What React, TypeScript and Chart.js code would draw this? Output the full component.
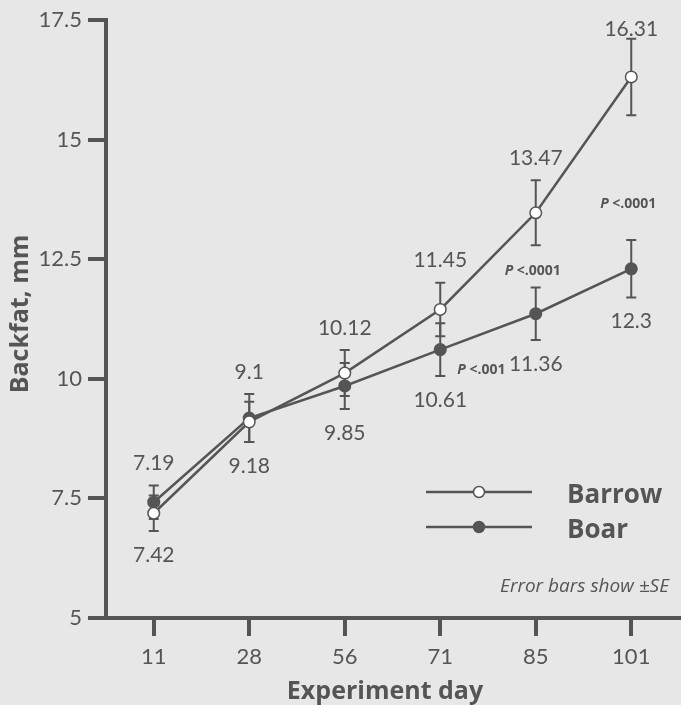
import React, { useEffect, useRef } from "react";
import { Chart, registerables } from "chart.js";

Chart.register(...registerables);

const days = ["11", "28", "56", "71", "85", "101"];
const barrowMeans = [7.19, 9.1, 10.12, 11.45, 13.47, 16.31];
const boarMeans = [7.42, 9.18, 9.85, 10.61, 11.36, 12.3];
const barrowSE = [0.37, 0.42, 0.48, 0.56, 0.68, 0.8];
const boarSE = [0.35, 0.5, 0.48, 0.55, 0.55, 0.6];
const upperLabels = ["7.19", "9.1", "10.12", "11.45", "13.47", "16.31"];
const lowerLabels = ["7.42", "9.18", "9.85", "10.61", "11.36", "12.3"];
const pLabels = ["", "", "", "<.001", "<.0001", "<.0001"];
const yTicks = [5, 7.5, 10, 12.5, 15, 17.5];

const INK = "#555555";
const TEXT = "#555555";
const BG = "#e7e7e7";

const drawPlugin = {
  id: "customDraw",
  beforeDraw(chart: any) {
    const { ctx, width, height } = chart;
    ctx.save();
    ctx.fillStyle = BG;
    ctx.fillRect(0, 0, width, height);
    ctx.restore();
  },
  beforeDatasetsDraw(chart: any) {
    const { ctx } = chart;
    const x = chart.scales.x;
    const y = chart.scales.y;
    ctx.save();
    ctx.strokeStyle = INK;
    ctx.lineWidth = 2;
    const bar = (px: number, m: number, se: number) => {
      const t = y.getPixelForValue(m + se);
      const b = y.getPixelForValue(m - se);
      ctx.beginPath();
      ctx.moveTo(px, t);
      ctx.lineTo(px, b);
      ctx.moveTo(px - 5, t);
      ctx.lineTo(px + 5, t);
      ctx.moveTo(px - 5, b);
      ctx.lineTo(px + 5, b);
      ctx.stroke();
    };
    days.forEach((_, i) => {
      const px = x.getPixelForValue(i);
      bar(px, boarMeans[i], boarSE[i]);
      bar(px, barrowMeans[i], barrowSE[i]);
    });
    ctx.restore();
  },
  afterDraw(chart: any) {
    const { ctx } = chart;
    const x = chart.scales.x;
    const y = chart.scales.y;
    ctx.save();
    ctx.fillStyle = TEXT;
    ctx.textAlign = "center";
    ctx.textBaseline = "middle";
    ctx.font = "21px Lato";
    days.forEach((_, i) => {
      const px = x.getPixelForValue(i);
      const top = Math.min(
        y.getPixelForValue(barrowMeans[i] + barrowSE[i]),
        y.getPixelForValue(boarMeans[i] + boarSE[i])
      );
      const bot = Math.max(
        y.getPixelForValue(barrowMeans[i] - barrowSE[i]),
        y.getPixelForValue(boarMeans[i] - boarSE[i])
      );
      ctx.fillText(upperLabels[i], px, Math.max(top - 22, 29));
      ctx.fillText(lowerLabels[i], px, bot + 24);
    });

    // P value labels
    days.forEach((_, i) => {
      const txt = pLabels[i];
      if (!txt) return;
      const px = x.getPixelForValue(i);
      const boarPx = y.getPixelForValue(boarMeans[i]);
      const boarTop = y.getPixelForValue(boarMeans[i] + boarSE[i]);
      ctx.font = "italic bold 14px 'Open Sans'";
      const wP = ctx.measureText("P ").width;
      ctx.font = "bold 14px 'Open Sans'";
      const wR = ctx.measureText(txt).width;
      let sx: number, sy: number;
      if (i === 3) {
        sx = px + 17;
        sy = boarPx + 20;
      } else if (i === 4) {
        sx = px - 3 - (wP + wR) / 2;
        sy = boarTop - 16;
      } else {
        sx = px - 3 - (wP + wR) / 2;
        sy = boarTop - 36;
      }
      ctx.textAlign = "left";
      ctx.font = "italic bold 14px 'Open Sans'";
      ctx.fillText("P ", sx, sy);
      ctx.font = "bold 14px 'Open Sans'";
      ctx.fillText(txt, sx + wP, sy);
    });

    // Legend
    const legend = [
      { name: "Barrow", fill: "#ffffff", ly: 492 },
      { name: "Boar", fill: INK, ly: 527 },
    ];
    legend.forEach((l) => {
      ctx.strokeStyle = INK;
      ctx.lineWidth = 2.5;
      ctx.beginPath();
      ctx.moveTo(426, l.ly);
      ctx.lineTo(532, l.ly);
      ctx.stroke();
      ctx.beginPath();
      ctx.arc(479, l.ly, 5.5, 0, Math.PI * 2);
      ctx.fillStyle = l.fill;
      ctx.fill();
      ctx.lineWidth = 1.5;
      ctx.stroke();
      ctx.fillStyle = TEXT;
      ctx.textAlign = "left";
      ctx.font = "bold 26px 'Open Sans'";
      ctx.fillText(l.name, 567, l.ly + 4);
    });

    ctx.textAlign = "right";
    ctx.font = "italic 19px 'Open Sans'";
    ctx.fillText("Error bars show \u00b1SE", 669, 587);

    // Axis titles
    ctx.textAlign = "center";
    ctx.font = "bold 25px 'Open Sans'";
    ctx.fillText("Experiment day", 385, 692);
    ctx.translate(21, 314);
    ctx.rotate(-Math.PI / 2);
    ctx.fillText("Backfat, mm", 0, 0);
    ctx.restore();
  },
};

export default function App() {
  const ref = useRef<HTMLCanvasElement | null>(null);
  useEffect(() => {
    if (!ref.current) return;
    const chart = new Chart(ref.current, {
      type: "line",
      data: {
        labels: days,
        datasets: [
          {
            label: "Barrow",
            data: barrowMeans,
            borderColor: INK,
            borderWidth: 2.5,
            pointRadius: 5.8,
            pointBackgroundColor: "#ffffff",
            pointBorderColor: INK,
            pointBorderWidth: 1.5,
            tension: 0,
          },
          {
            label: "Boar",
            data: boarMeans,
            borderColor: INK,
            borderWidth: 2.5,
            pointRadius: 5.8,
            pointBackgroundColor: INK,
            pointBorderColor: INK,
            pointBorderWidth: 1.5,
            tension: 0,
          },
        ],
      },
      options: {
        responsive: false,
        animation: false,
        layout: { autoPadding: false, padding: { top: 20, right: 2, left: 0, bottom: 0 } },
        plugins: {
          legend: { display: false },
          tooltip: { enabled: false },
        },
        scales: {
          x: {
            type: "category",
            offset: true,
            grid: {
              drawOnChartArea: false,
              drawTicks: true,
              tickLength: 18,
              lineWidth: 4,
              color: INK,
              offset: false,
            },
            border: { display: true, width: 4, color: INK },
            ticks: {
              color: TEXT,
              font: { family: "Lato", size: 22 },
              padding: 8,
              maxRotation: 0,
            },
            afterFit: (s: any) => {
              s.height = 87;
              s.paddingLeft = 0;
              s.paddingRight = 0;
            },
          },
          y: {
            min: 5,
            max: 17.5,
            afterBuildTicks: (s: any) => {
              s.ticks = yTicks.map((v) => ({ value: v }));
            },
            grid: {
              drawOnChartArea: false,
              drawTicks: true,
              tickLength: 18,
              lineWidth: 4,
              color: INK,
            },
            border: { display: true, width: 4, color: INK },
            ticks: {
              color: TEXT,
              font: { family: "Lato", size: 22 },
              padding: 6,
              callback: (v: any) => String(v),
            },
            afterFit: (s: any) => {
              s.width = 106;
            },
          },
        },
      },
      plugins: [drawPlugin],
    });
    return () => chart.destroy();
  }, []);
  return (
    <div style={{ position: "absolute", left: 0, top: 0, width: 681, height: 705, background: BG }}>
      <canvas ref={ref} width={681} height={705} />
    </div>
  );
}
